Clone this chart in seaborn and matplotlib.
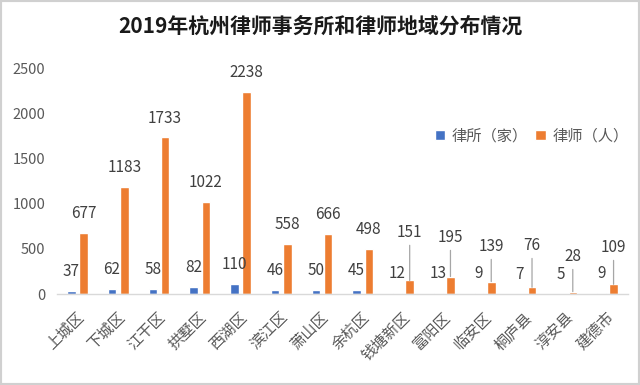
import matplotlib
matplotlib.use("Agg")
import matplotlib.pyplot as plt
import matplotlib.transforms as mtransforms
import seaborn as sns
import pandas as pd
from matplotlib.patches import Rectangle

districts = ["上城区", "下城区", "江干区", "拱墅区", "西湖区", "滨江区", "萧山区",
             "余杭区", "钱塘新区", "富阳区", "临安区", "桐庐县", "淳安县", "建德市"]
firms = [37, 62, 58, 82, 110, 46, 50, 45, 12, 13, 9, 7, 5, 9]
lawyers = [677, 1183, 1733, 1022, 2238, 558, 666, 498, 151, 195, 139, 76, 28, 109]
series_names = ["律所（家）", "律师（人）"]
yticks = [0, 500, 1000, 1500, 2000, 2500]
title = "2019年杭州律师事务所和律师地域分布情况"

df = pd.DataFrame({
    "district": districts * 2,
    "value": firms + lawyers,
    "series": [series_names[0]] * len(districts) + [series_names[1]] * len(districts),
})

sns.set_theme(style="white")
plt.rcParams["font.family"] = ["Noto Sans CJK SC", "DejaVu Sans"]

fig = plt.figure(figsize=(6.4, 3.85), dpi=100)
ax = fig.add_axes([0.089, 0.236, 0.892, 0.587])

palette = {series_names[0]: "#4472C4", series_names[1]: "#ED7D31"}
sns.barplot(data=df, x="district", y="value", hue="series", palette=palette,
            width=0.6, gap=0.3, saturation=1, ax=ax, order=districts,
            hue_order=series_names)

ax.set_ylim(0, 2500)
ax.set_yticks(yticks)
ax.set_xlim(-0.5, len(districts) - 0.5)
ax.set_xlabel("")
ax.set_ylabel("")
for s in ["top", "right", "left"]:
    ax.spines[s].set_visible(False)
ax.spines["bottom"].set_color("#d9d9d9")
ax.spines["bottom"].set_linewidth(1)
ax.tick_params(axis="y", length=0, labelsize=10.5, labelcolor="#595959", pad=8.5)
ax.tick_params(axis="x", length=0, labelsize=11, labelcolor="#595959", pad=15)
shift = mtransforms.ScaledTranslation(4 / 100, 0, fig.dpi_scale_trans)
for lab in ax.get_xticklabels():
    lab.set_rotation(45)
    lab.set_ha("right")
    lab.set_va("center")
    lab.set_rotation_mode("anchor")
    lab.set_transform(lab.get_transform() + shift)

# data labels
callout_y = {"钱塘新区": 678, "富阳区": 622, "临安区": 522, "桐庐县": 533,
             "淳安县": 411, "建德市": 511}
lbl_kw = dict(fontsize=11, color="#404040", ha="center", va="center")
firm_bars, lawyer_bars = ax.containers[0], ax.containers[1]
for i, d in enumerate(districts):
    b = firm_bars[i]
    x = b.get_x() + b.get_width() / 2
    ax.annotate(f"{firms[i]}", (x, firms[i]), xytext=(0, 14),
                textcoords="offset points", **lbl_kw)
    b = lawyer_bars[i]
    x = b.get_x() + b.get_width() / 2
    if d in callout_y:
        ax.annotate(f"{lawyers[i]}", (x, lawyers[i]), xytext=(x, callout_y[d]),
                    textcoords="data",
                    arrowprops=dict(arrowstyle="-", color="#a6a6a6", lw=0.9,
                                    shrinkA=0.5, shrinkB=0),
                    **lbl_kw)
    else:
        ax.annotate(f"{lawyers[i]}", (x, lawyers[i]), xytext=(0, 14),
                    textcoords="offset points", **lbl_kw)

leg = ax.legend(loc="center right", bbox_to_anchor=(1.025, 0.70), ncol=2,
                frameon=False, fontsize=11, handlelength=0.7, handleheight=0.7,
                handletextpad=0.4, columnspacing=0.5)
for t in leg.get_texts():
    t.set_color("#595959")

fig.text(0.5, 0.932, title, ha="center", va="center", fontsize=15,
         fontweight="bold", color="#1a1a1a")

fig.patches.append(Rectangle((0, 0), 1, 1, transform=fig.transFigure,
                             fill=False, edgecolor="#d0d0d0", linewidth=3))

fig.savefig("out.png", dpi=100, facecolor="white")
